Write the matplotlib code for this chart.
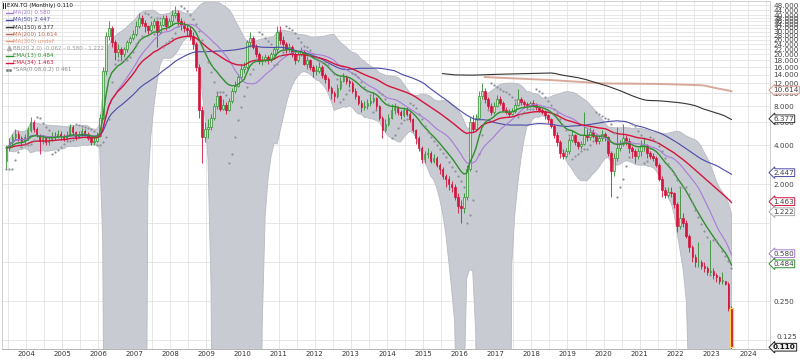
import numpy as np
import pandas as pd
import matplotlib
matplotlib.use("Agg")
import matplotlib.pyplot as plt
from matplotlib.lines import Line2D
from matplotlib.ticker import FixedLocator, FuncFormatter, NullFormatter

# ============================================================
# Data: EXN.TO monthly candles, Jun 2003 .. Jul 2023
# ============================================================

first_month = "2003-06"
first_open = 3.0

closes = [
    3.8, 4.2, 4.6, 4.9, 4.5, 4.3, 4.6,                                  # 2003 Jun-Dec
    5.2, 6.0, 5.3, 4.8, 4.3, 4.5, 4.2, 4.4, 4.7, 4.6, 4.9, 4.7,         # 2004
    4.5, 4.8, 5.5, 5.0, 4.6, 4.8, 5.1, 4.9, 4.5, 4.2, 4.3, 4.7,         # 2005
    6.5, 15, 28, 32, 25, 21, 22, 20, 22, 25, 27, 29,                    # 2006
    33, 38, 35, 33, 31, 34, 36, 30, 34, 38, 33, 36,                     # 2007
    40, 42, 36, 34, 32, 31, 28, 24, 16, 7.5, 4.6, 5.3,                  # 2008
    5.5, 6.5, 8.0, 9.5, 7.6, 8.2, 7.5, 8.8, 10.5, 11.5, 13.5, 15.5,     # 2009
    16, 25, 27, 23, 20, 18, 18, 19, 18, 20, 22, 30,                     # 2010
    26, 24, 22, 23, 20, 18, 20, 21, 17, 18, 16, 15,                     # 2011
    15, 16, 14, 13, 11, 10, 9.5, 11, 12.5, 13.5, 12.5, 12,              # 2012
    10.5, 9.5, 8.5, 7.8, 8.0, 8.5, 8.8, 9.2, 8.0, 6.5, 5.2, 5.8,        # 2013
    6.5, 7.5, 7.8, 7.2, 6.8, 7.5, 7.0, 6.3, 5.2, 4.5, 3.8, 3.1,         # 2014
    3.4, 3.5, 3.0, 3.2, 2.8, 2.6, 2.3, 2.2, 2.0, 1.9, 1.6, 1.35,        # 2015
    1.3, 1.6, 2.6, 6.0, 5.3, 6.5, 9.5, 10.5, 9.0, 8.0, 7.2, 8.0,        # 2016
    9.0, 8.5, 7.5, 7.2, 7.0, 7.3, 8.2, 9.0, 8.6, 8.3, 8.0, 8.4,         # 2017
    8.2, 7.8, 7.5, 7.2, 6.8, 6.3, 5.6, 4.8, 4.2, 3.5, 3.3, 3.6,         # 2018
    4.4, 4.8, 4.2, 3.9, 4.1, 4.8, 4.6, 5.0, 4.7, 4.3, 4.5, 4.9,         # 2019
    4.6, 3.5, 2.5, 3.2, 3.8, 4.1, 4.5, 4.3, 3.8, 3.6, 3.3, 3.6,         # 2020
    4.0, 4.0, 3.5, 3.3, 3.2, 2.8, 2.2, 1.8, 1.65, 1.75, 1.7, 1.4,       # 2021
    0.95, 1.1, 1.0, 0.8, 0.65, 0.55, 0.5, 0.5, 0.47, 0.45, 0.42, 0.43,  # 2022
    0.40, 0.38, 0.36, 0.36, 0.34, 0.22, 0.11,                           # 2023 Jan-Jul
]

highs = [
    4.0, 4.5, 4.9, 5.3, 5.1, 4.7, 4.9,
    5.5, 6.6, 6.2, 5.5, 4.9, 4.8, 4.6, 4.7, 5.0, 5.0, 5.2, 5.1,
    4.9, 5.1, 5.8, 5.7, 5.1, 5.1, 5.4, 5.3, 5.0, 4.6, 4.6, 5.0,
    7.0, 16, 30, 36, 33, 26, 24, 23, 23, 26, 28, 31,
    36, 42, 40, 37, 34, 36, 38, 37, 36, 40, 40, 38,
    44, 47, 44, 38, 36, 34, 33, 30, 25, 17, 8.0, 6.0,
    6.3, 7.0, 8.5, 10.2, 9.8, 9.0, 8.6, 9.2, 11.0, 12.5, 14.2, 17.0,
    17.5, 26, 30, 28, 24, 21, 19.5, 20, 19.8, 21, 23, 33,
    33, 28, 25, 24.5, 23.5, 21, 21, 23, 21.5, 19.5, 18.5, 16.5,
    16.5, 17.5, 16.5, 14.5, 13.5, 11.5, 10.5, 11.8, 13.4, 14.5, 14, 13,
    12.5, 11, 9.8, 8.9, 8.8, 9.0, 9.5, 10.2, 9.4, 8.2, 6.7, 6.4,
    7.0, 8.3, 8.4, 8.0, 7.5, 7.9, 7.8, 7.2, 6.5, 5.3, 4.7, 3.9,
    3.6, 3.8, 3.6, 3.4, 3.3, 2.9, 2.7, 2.4, 2.3, 2.1, 2.0, 1.7,
    1.5, 1.7, 2.8, 6.6, 6.8, 7.0, 10.5, 12.0, 11.0, 9.4, 8.5, 8.6,
    9.8, 9.6, 8.8, 7.9, 7.6, 7.7, 8.6, 10.8, 9.4, 8.9, 8.6, 8.8,
    8.9, 8.4, 8.0, 7.7, 7.4, 7.0, 6.5, 5.8, 5.0, 4.4, 3.7, 3.8,
    4.6, 5.2, 4.9, 4.3, 4.3, 7.2, 5.3, 5.5, 5.3, 4.8, 4.7, 5.2,
    5.0, 4.7, 3.6, 3.5, 5.5, 4.4, 5.8, 4.8, 4.5, 3.9, 3.7, 3.8,
    4.4, 4.6, 4.1, 3.6, 3.5, 3.3, 2.9, 2.3, 1.9, 1.9, 1.9, 1.75,
    1.45, 1.9, 1.2, 1.05, 0.82, 0.68, 0.58, 0.72, 0.52, 0.5, 0.47, 0.74,
    0.45, 0.41, 0.39, 0.42, 0.36, 0.35, 0.23,
]

lows = [
    2.6, 3.6, 4.0, 4.4, 4.3, 4.0, 4.1,
    4.4, 5.0, 5.0, 4.6, 3.4, 4.1, 4.0, 4.0, 4.3, 4.4, 4.5, 4.4,
    4.3, 4.4, 4.7, 4.8, 4.4, 4.5, 4.7, 4.7, 4.4, 4.0, 4.0, 4.2,
    4.6, 6.3, 14, 26, 23, 18, 19, 18, 19, 21, 24, 26,
    28, 32, 33, 30, 29, 30, 32, 23, 29, 33, 31, 32,
    34, 38, 34, 31, 30, 28, 26, 22, 15, 6.5, 2.9, 4.2,
    4.5, 5.2, 6.2, 7.6, 7.3, 7.4, 7.0, 7.3, 8.5, 10.0, 11.2, 13.0,
    14.5, 15.5, 23, 22, 19, 17, 16.5, 17.5, 17, 17.5, 19.5, 21,
    24, 21.5, 20.5, 21, 19, 17, 17.5, 19.5, 16.5, 15.5, 15.2, 13.5,
    13.8, 14.5, 13.2, 12.0, 10.5, 9.0, 8.6, 9.2, 10.6, 12.2, 11.8, 11.2,
    10.0, 9.0, 8.1, 7.2, 7.4, 7.6, 8.0, 8.5, 7.5, 6.2, 4.5, 5.0,
    5.6, 6.3, 7.0, 6.8, 6.3, 6.6, 6.7, 6.0, 5.0, 4.1, 3.6, 2.9,
    2.9, 3.2, 2.9, 2.9, 2.7, 2.4, 2.2, 1.9, 1.8, 1.75, 1.5, 1.2,
    1.0, 1.2, 1.5, 2.5, 5.0, 5.1, 6.3, 9.0, 8.5, 7.6, 6.8, 6.9,
    7.8, 8.2, 7.3, 6.9, 6.6, 6.8, 7.1, 8.0, 8.2, 7.8, 7.6, 7.8,
    7.8, 7.5, 7.2, 6.9, 6.4, 5.9, 5.4, 4.5, 3.9, 3.2, 3.1, 3.2,
    3.4, 4.2, 4.0, 3.7, 3.7, 4.0, 4.3, 4.4, 4.5, 4.1, 4.1, 4.3,
    4.3, 3.3, 1.6, 2.3, 3.0, 3.6, 3.9, 4.0, 3.5, 3.2, 2.9, 3.1,
    3.3, 3.6, 3.2, 3.1, 3.0, 2.7, 2.1, 1.6, 1.55, 1.6, 1.6, 1.3,
    0.85, 0.9, 0.93, 0.76, 0.6, 0.5, 0.46, 0.46, 0.44, 0.42, 0.4, 0.4,
    0.37, 0.35, 0.34, 0.34, 0.33, 0.21, 0.105,
]

# indicator read-outs shown in the legend / right-hand tags
legend_labels = [
    "EXN.TO (Monthly) 0.110", "MA(20) 0.580", "MA(50) 2.447", "MA(150) 6.377",
    "MA(200) 10.614", "MA(300) undef", "BB(20,2.0) -0.062 - 0.580 - 1.222",
    "EMA(13) 0.484", "EMA(34) 1.463", "*SAR(0.08,0.2) 0.461",
]
tag_values = [10.614, 6.377, 2.447, 1.463, 1.222, 0.580, 0.484, 0.110]

year_ticks = list(range(2004, 2025))
price_ticks = [0.125, 0.25, 0.5, 1, 2, 4, 6, 8, 10, 12, 14, 16, 18, 20, 22, 24,
               26, 28, 30, 32, 34, 36, 38, 40, 44, 48]

# ============================================================
# Indicators
# ============================================================

C_GREEN = "#2f8f2f"
C_RED = "#d4143c"
C_MA20 = "#a77bd8"
C_MA50 = "#4a4aa8"
C_MA150 = "#333333"
C_MA200 = "#d39a8a"
C_MA300 = "#e8967a"
C_BB = "#c9cbd2"
C_SAR = "#8c919a"

dates = pd.date_range(first_month, periods=len(closes), freq="MS")
t = np.asarray(dates.year + (dates.month - 0.5) / 12)

close = pd.Series(closes, dtype=float)
opens = close.shift(1).fillna(first_open)
high = np.maximum(np.asarray(highs), np.maximum(opens, close))
low = np.minimum(np.asarray(lows), np.minimum(opens, close))

ma20 = close.rolling(20, min_periods=1).mean()
ma50 = close.rolling(50, min_periods=1).mean()
ma150 = close.rolling(150, min_periods=146).mean()
ma200 = close.rolling(200, min_periods=160).mean()
ema13 = close.ewm(span=13, adjust=False).mean()
ema34 = close.ewm(span=34, adjust=False).mean()
bb_mid = close.rolling(20, min_periods=2).mean()
bb_sd = close.rolling(20, min_periods=2).std(ddof=0)
bb_up = bb_mid + 2 * bb_sd
bb_lo = (bb_mid - 2 * bb_sd).clip(lower=1e-4)


def parabolic_sar(hi, lo, step=0.08, max_af=0.2):
    n = len(hi)
    sar = np.zeros(n)
    bull = True
    af = step
    ep = hi[0]
    sar[0] = lo[0]
    for i in range(1, n):
        s = sar[i - 1] + af * (ep - sar[i - 1])
        if bull:
            s = min(s, lo[i - 1], lo[max(i - 2, 0)])
            if lo[i] < s:
                bull, s, ep, af = False, ep, lo[i], step
            elif hi[i] > ep:
                ep, af = hi[i], min(af + step, max_af)
        else:
            s = max(s, hi[i - 1], hi[max(i - 2, 0)])
            if hi[i] > s:
                bull, s, ep, af = True, ep, hi[i], step
            elif lo[i] < ep:
                ep, af = lo[i], min(af + step, max_af)
        sar[i] = s
    return sar


sar = parabolic_sar(high, low)

# ============================================================
# Plot
# ============================================================

W, H = 800, 359
fig = plt.figure(figsize=(W / 100, H / 100), dpi=100)
ax = fig.add_axes([2 / W, (H - 349) / H, 768 / W, 348 / H])
ax.set_yscale("log")
ax.set_xlim(2003.335, 2024.61)
ax.set_ylim(0.1066, 51.7)

ax.fill_between(t, bb_lo, bb_up, color=C_BB, lw=0.6, edgecolor="#b8bac2", zorder=1)

w = 0.55 / 12
up = (close >= opens).values
body_lo = np.minimum(opens, close)
body_h = np.abs(close - opens).clip(lower=0.004 * close)
ax.vlines(t[up], low[up], high[up], color=C_GREEN, lw=0.6, zorder=2)
ax.vlines(t[~up], low[~up], high[~up], color=C_RED, lw=0.6, zorder=2)
ax.bar(t[up], body_h[up], bottom=body_lo[up], width=w, color="#cfe7c9",
       edgecolor=C_GREEN, lw=0.5, zorder=2)
ax.bar(t[~up], body_h[~up], bottom=body_lo[~up], width=w, color=C_RED,
       edgecolor=C_RED, lw=0.5, zorder=2)
# highlight of the latest candle
ax.bar(t[-1:], body_h.iloc[-1:], bottom=body_lo.iloc[-1:], width=w * 1.6,
       color=C_RED, edgecolor="#ffd84a", lw=0.9, zorder=2.1)

ax.plot(t, ma200, color=C_MA200, lw=1.4, alpha=0.85, zorder=3)
ax.plot(t, ma150, color=C_MA150, lw=0.8, zorder=3)
ax.plot(t, ma50, color=C_MA50, lw=0.8, zorder=3)
ax.plot(t, ma20, color=C_MA20, lw=0.8, zorder=3)
ax.plot(t, ema34, color=C_RED, lw=1.0, zorder=3.2)
ax.plot(t, ema13, color=C_GREEN, lw=1.0, zorder=3.3)
ax.plot(t, sar, ls="none", marker="o", ms=1.6, mew=0, color=C_SAR, zorder=3.4)

# axes / grid
ax.xaxis.set_major_locator(FixedLocator(year_ticks))
ax.xaxis.set_minor_locator(FixedLocator([y + 0.5 for y in range(2003, 2025)]))
ax.set_xticklabels([str(y) for y in year_ticks], fontsize=5.0, color="#333333")
ax.yaxis.set_major_locator(FixedLocator(price_ticks))
ax.yaxis.set_minor_locator(FixedLocator([]))
ax.yaxis.set_minor_formatter(NullFormatter())
ax.yaxis.set_major_formatter(
    FuncFormatter(lambda v, _: "" if v in (1, 0.125) else f"{v:.3f}"))
ax.yaxis.tick_right()
ax.tick_params(axis="y", length=0, pad=2.5, labelsize=5.2, labelcolor="#444444")
ax.tick_params(axis="x", which="both", length=0, pad=1.2)
ax.grid(True, which="both", color="#e3e3e3", lw=0.6, zorder=0)
ax.set_axisbelow(True)
for side in ("left", "top", "right"):
    ax.spines[side].set_color("#c8c8c8")
    ax.spines[side].set_linewidth(0.6)
ax.spines["bottom"].set_color("#aaaaaa")
ax.spines["bottom"].set_linestyle((0, (1, 1)))
ax.spines["bottom"].set_linewidth(0.6)

# lowest price label sits just above its grid line (the last-price tag covers it)
ax.text(1.008, 0.125, "0.125", transform=ax.get_yaxis_transform(), fontsize=5.2,
        color="#444444", va="bottom", ha="left", clip_on=False)

# right-hand value tags
tag_colors = [C_MA200, C_MA150, C_MA50, C_RED, "#aaaaaa", C_MA20, C_GREEN, "#222222"]
for val, col in zip(tag_values, tag_colors):
    last = val == tag_values[-1]
    ax.text(1.004, val, f"{val:.3f}", transform=ax.get_yaxis_transform(),
            fontsize=5.2, va="center", ha="left", clip_on=False,
            color="#111111" if last else "#444444",
            fontweight="bold" if last else "normal", zorder=6,
            bbox=dict(boxstyle="larrow,pad=0.12", fc="#f2f2f2" if last else "white",
                      ec=col, lw=0.7))


# legend (top-left)
def px(x, y):
    return x / W, 1 - y / H


leg_colors = ["#111111", C_MA20, C_MA50, C_MA150, "#b86a55", C_MA300, "#999999",
              C_GREEN, C_RED, "#8a8a8a"]
for i, (lab, col) in enumerate(zip(legend_labels, leg_colors)):
    y = 5.8 + i * 7.1
    x0 = 7 if i == 0 else 13
    fig.text(*px(x0, y), lab, fontsize=4.0, color=col, va="center", ha="left")
    if i == 0:
        for xc in (2.5, 4.8):
            fig.add_artist(Line2D([px(xc, 0)[0]] * 2, [px(0, y - 2.5)[1], px(0, y + 2.5)[1]],
                                  color="#222222", lw=0.7))
    elif i == 6:
        fig.add_artist(Line2D([px(9, 0)[0]], [px(0, y)[1]], marker="^", ms=3.0,
                              color="#b0b0b0", ls="none"))
    elif i == 9:
        fig.add_artist(Line2D([px(7, 0)[0], px(10, 0)[0]], [px(0, y)[1]] * 2,
                              marker="o", ms=1.2, color="#8a8a8a", ls="none"))
    else:
        fig.add_artist(Line2D([px(6, 0)[0], px(12.5, 0)[0]], [px(0, y)[1]] * 2,
                              color=col, lw=1.0))

fig.savefig("out.png", dpi=100)
